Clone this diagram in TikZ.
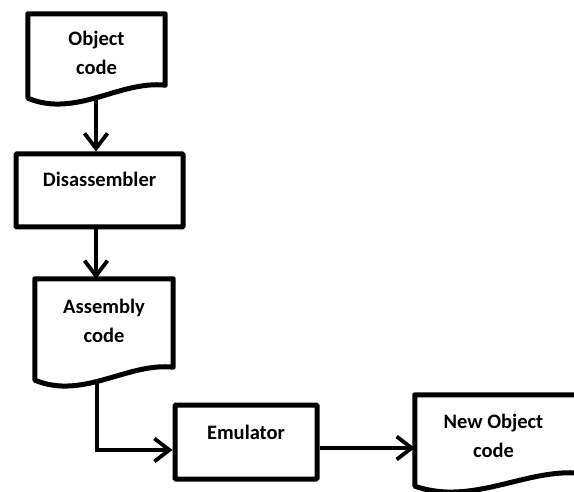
\documentclass[tikz,border=0pt]{standalone}
\usepackage{fontspec}
\setmainfont{Carlito}
\usetikzlibrary{calc,arrows.meta}
\newcommand\docoutline[1]{%
  \draw[boxline] (#1.south west) -- (#1.north west) -- (#1.north east)
    -- ($(#1.south east)+(0,-13)$)
    .. controls ($(#1.south east)!0.33!(#1.south west)+(0,-18)$)
    and ($(#1.south east)!0.65!(#1.south west)+(0,20)$) .. (#1.south west) -- cycle;}
\begin{document}
\begin{tikzpicture}[x=1pt,y=-1pt,
  boxline/.style={line width=5pt, line join=round, draw=black},
  shapebox/.style={draw=none, inner sep=0pt, rectangle},
  procbox/.style={draw=black, line width=5pt, inner sep=0pt, rectangle, rounded corners=1pt},
  txt/.style={font=\fontsize{20.5}{29}\selectfont\bfseries, align=center, inner sep=0pt},
  arr/.style={line width=3.8pt, -{Straight Barb[length=15pt, width=23pt, line width=3.8pt]}}]
\useasboundingbox (0,0) rectangle (574,492);
\fill[white] (0,0) rectangle (574,492);

\node[shapebox, minimum width=137pt, minimum height=84pt,
  label={[txt, yshift=3pt]center:Object\\code}] (oc) at (96.5,56) {};
\docoutline{oc}

\node[procbox, minimum width=167pt, minimum height=73pt,
  label={[txt, yshift=11pt]center:Disassembler}] (dis) at (99.5,190.5) {};

\node[shapebox, minimum width=138pt, minimum height=101pt,
  label={[txt, yshift=9pt]center:Assembly\\code}] (asm) at (104,329.5) {};
\docoutline{asm}

\node[procbox, minimum width=142pt, minimum height=74pt,
  label={[txt, yshift=10pt]center:Emulator}] (emu) at (246,442) {};

\node[shapebox, minimum width=165pt, minimum height=91pt,
  label={[txt, yshift=5pt, xshift=-4pt]center:New Object\\code}] (nob) at (497.5,440.5) {};
\docoutline{nob}

\draw[arr] ([xshift=-0.5pt]oc.south) -- ([xshift=-0.5pt]oc.south |- dis.north);
\draw[arr] ([xshift=-3.5pt]dis.south) -- ([xshift=-3.5pt]dis.south |- asm.north);
\draw[arr] ([xshift=-7pt]asm.south) |- ([yshift=-8pt]emu.west);
\draw[arr] ([yshift=-6pt]emu.east) -- ([yshift=-6pt]emu.east -| nob.west);
\end{tikzpicture}
\end{document}
